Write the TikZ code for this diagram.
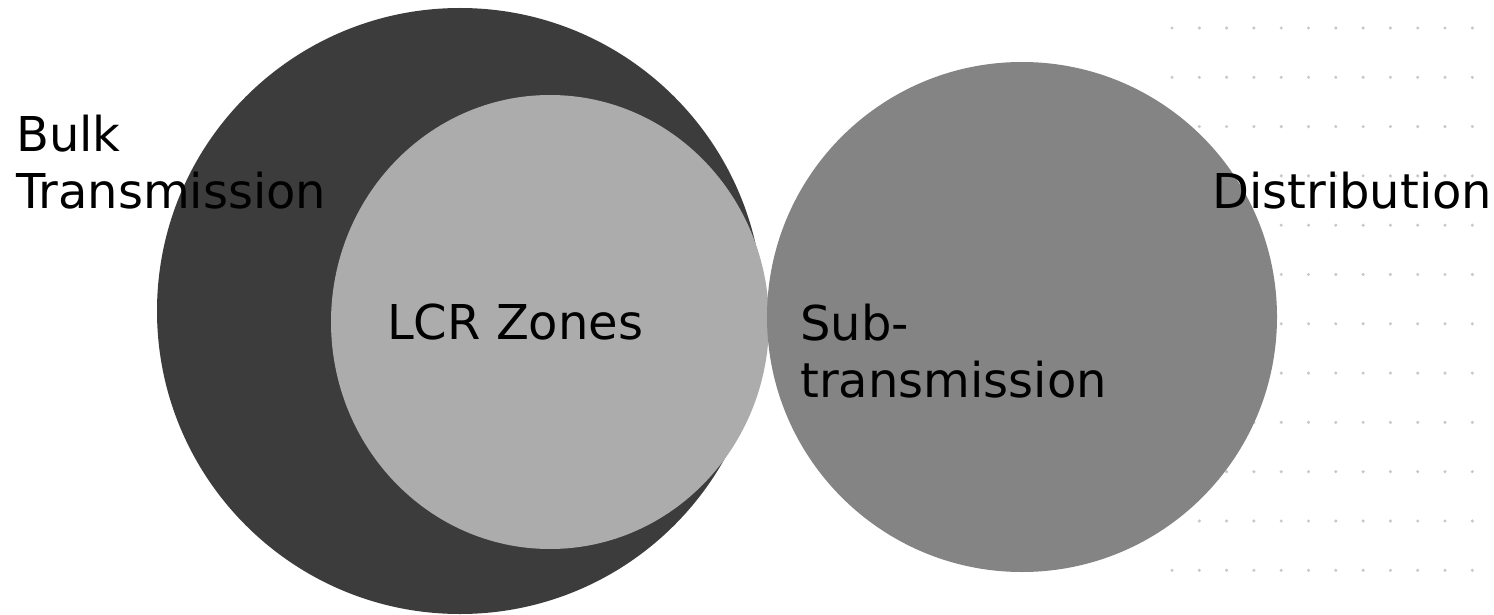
\documentclass[tikz,border=0pt]{standalone}
\usepackage{fontspec}
\setmainfont{DejaVu Sans}
\usetikzlibrary{shapes.geometric}

\definecolor{bulkfill}{RGB}{60,60,60}
\definecolor{lcrfill}{RGB}{172,172,172}
\definecolor{subfill}{RGB}{132,132,132}
\definecolor{dotfill}{RGB}{200,200,200}

\tikzset{
  zone/.style={circle, draw=none, inner sep=0pt},
  label text/.style={inner sep=0pt, anchor=base west, text=black,
    font=\fontsize{48}{57}\selectfont},
  dotmark/.style={fill=dotfill, draw=none}
}

\begin{document}
\begin{tikzpicture}[x=1pt, y=-1pt]
  \useasboundingbox (0,0) rectangle (1494,615);
  \fill[white] (0,0) rectangle (1494,615);

  % stippled background of the distribution area
  \foreach \r in {0,...,11} {
    \foreach \c in {0,...,12} {
      \fill[dotmark] ({1172+27.3*\c},{28+49.3*\r}) circle (1.7);
    }
  }

  % zones
  \node[zone, fill=bulkfill, minimum size=606pt] (bulk) at (460,311) {};
  \node[ellipse, draw=none, inner sep=0pt, fill=lcrfill,
        minimum width=438pt, minimum height=454pt] (lcr) at (550,322) {};
  \node[zone, fill=subfill, minimum size=510pt] (sub) at (1022,317) {};

  % labels
  \node[label text] (bulk1) at (16,152) {Bulk};
  \node[label text] (bulk2) at (16,208) {Transmission};
  \node[label text] (lcrlabel) at (387,339) {LCR Zones};
  \node[label text] (sub1) at (800,340) {Sub-};
  \node[label text] (sub2) at (800,397) {transmission};
  \node[label text] (dist) at (1212,208) {Distribution};
\end{tikzpicture}
\end{document}
